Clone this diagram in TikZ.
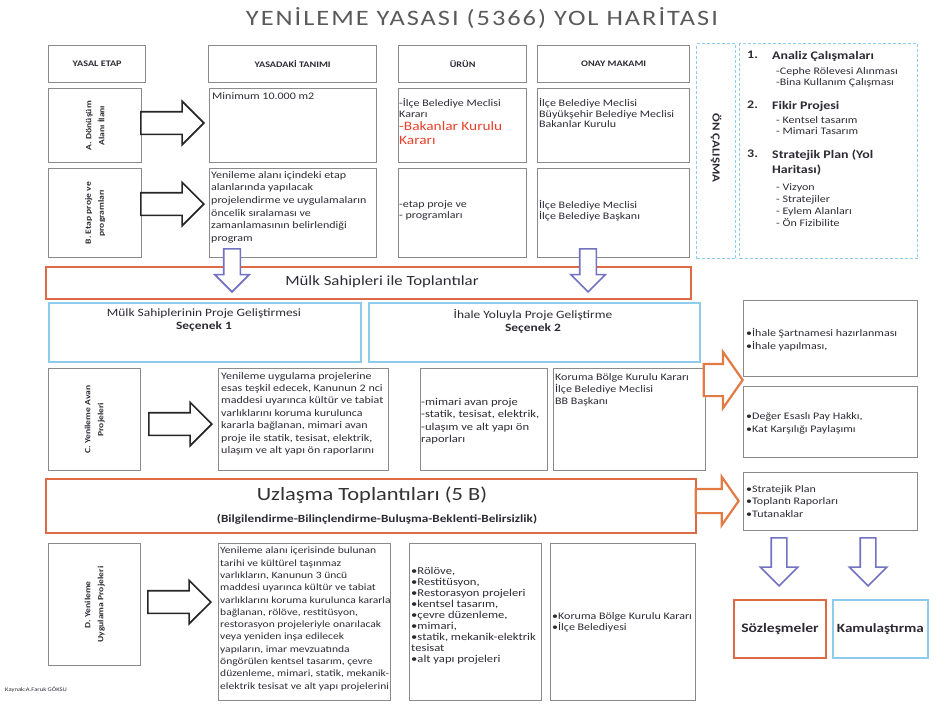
\documentclass[tikz,border=0pt]{standalone}
\usepackage{fontspec}
\setmainfont{Carlito}[FakeStretch=1.2]
\usetikzlibrary{positioning, shapes.arrows}

\definecolor{boxgray}{HTML}{8A8A8A}
\definecolor{lblue}{HTML}{8FCBEA}
\definecolor{redor}{HTML}{DE6A45}
\definecolor{arrblue}{HTML}{7272C2}
\definecolor{arror}{HTML}{E27A45}
\definecolor{txtc}{HTML}{2E2A33}
\definecolor{kirmizi}{HTML}{E8412C}
\definecolor{titlec}{HTML}{5A5A5A}

\begin{document}
\begin{tikzpicture}[
        x=1pt, y=-1pt,
        every node/.style={inner sep=0pt, text=txtc}, % plain text nodes
        gbox/.style={draw=boxgray, line width=1.3pt, anchor=north west}, % gray boxes
        bluebox/.style={draw=lblue, line width=1.8pt, anchor=north west},
        redbox/.style={draw=redor, line width=2pt, anchor=north west},
        dashbox/.style={draw=lblue, line width=1.3pt, dash pattern=on 3pt off 2pt, anchor=north west},
        hdr/.style={font=\fontsize{8.5}{10}\selectfont\bfseries},
        etap/.style={font=\fontsize{8}{13}\selectfont\bfseries, rotate=90, align=center},
        tanim/.style={font=\fontsize{10}{12.4}\selectfont, align=left, anchor=north west},
        small/.style={font=\fontsize{10}{11.5}\selectfont, align=left, anchor=north west},
        madde/.style={font=\fontsize{11.6}{15}\selectfont\bfseries, align=left, anchor=north west},
        blackarrow/.style={single arrow, draw=black!85, line width=1.6pt, fill=white,
            minimum height=63pt, inner ysep=10.5pt, single arrow head extend=10.5pt, anchor=tip},
        bluearrow/.style={single arrow, draw=arrblue, line width=1.6pt, fill=white,
            minimum height=43pt, inner ysep=7.5pt, single arrow head extend=9pt, anchor=tip, rotate=-90},
        orangearrow/.style={single arrow, draw=arror, line width=2.2pt, fill=white,
            single arrow tip angle=110, anchor=tip}
    ]

    \useasboundingbox (0,0) rectangle (944,704);

    % Title
    \node[font=\fontsize{22}{26}\selectfont\addfontfeatures{LetterSpace=9}, text=titlec] (baslik) at (482,18) {YENİLEME YASASI (5366) YOL HARİTASI};

    % Header row
    \node[gbox, minimum width=97pt, minimum height=37pt] (h1) at (48,45) {};
    \node[hdr] (h1t) at (h1.center) {YASAL ETAP};
    \node[gbox, minimum width=168pt, minimum height=37pt] (h2) at (208,45) {};
    \node[hdr] (h2t) at (h2.center) {YASADAKİ TANIMI};
    \node[gbox, minimum width=128pt, minimum height=37pt] (h3) at (398,45) {};
    \node[hdr] (h3t) at (h3.center) {ÜRÜN};
    \node[gbox, minimum width=152pt, minimum height=37pt] (h4) at (537,45) {};
    \node[hdr] (h4t) at (h4.center) {ONAY MAKAMI};

    % Row A
    \node[gbox, minimum width=93pt, minimum height=74pt] (eA) at (48,88) {};
    \node[etap] (eAt) at (eA.center) {A. Dönüşüm\\Alanı İlanı};
    \node[gbox, minimum width=167pt, minimum height=74pt] (tA) at (209,88) {};
    \node[tanim] (tAt) at ([shift={(3,4)}]tA.north west) {Minimum 10.000 m2};
    \node[blackarrow] (okA) at (205,123) {};
    \node[gbox, minimum width=128pt, minimum height=74pt] (uA) at (398,88) {};
    \node[small] (uAt) at ([shift={(1,10)}]uA.north west) {-İlçe Belediye Meclisi\\Kararı};
    \node[small, font=\fontsize{12.8}{14}\selectfont, text=kirmizi] (uAk) at ([shift={(1,33)}]uA.north west) {-Bakanlar Kurulu\\Kararı};
    \node[gbox, minimum width=152pt, minimum height=74pt] (oA) at (537,88) {};
    \node[small, font=\fontsize{10}{10.7}\selectfont] (oAt) at ([shift={(2,10)}]oA.north west) {İlçe Belediye Meclisi\\Büyükşehir Belediye Meclisi\\Bakanlar Kurulu};

    % Row B
    \node[gbox, minimum width=93pt, minimum height=89pt] (eB) at (48,168) {};
    \node[etap] (eBt) at (eB.center) {B. Etap proje ve\\programları};
    \node[gbox, minimum width=167pt, minimum height=89pt] (tB) at (209,168) {};
    \node[tanim, font=\fontsize{10}{12.7}\selectfont] (tBt) at ([shift={(2,3)}]tB.north west) {Yenileme alanı içindeki etap\\alanlarında yapılacak\\projelendirme ve uygulamaların\\öncelik sıralaması ve\\zamanlamasının belirlendiği\\program};
    \node[blackarrow] (okB) at (205,204) {};
    \node[gbox, minimum width=128pt, minimum height=89pt] (uB) at (398,168) {};
    \node[small] (uBt) at ([shift={(1,32)}]uB.north west) {-etap proje ve\\- programları};
    \node[gbox, minimum width=152pt, minimum height=89pt] (oB) at (537,168) {};
    \node[small] (oBt) at ([shift={(2,32)}]oB.north west) {İlçe Belediye Meclisi\\İlçe Belediye Başkanı};

    % Pre-study (dashed)
    \node[dashbox, minimum width=39pt, minimum height=215pt] (on) at (696,43) {};
    \node[font=\fontsize{10.8}{14}\selectfont\bfseries, rotate=-90] (ont) at (716,148) {ÖN ÇALIŞMA};
    \node[dashbox, minimum width=178pt, minimum height=215pt] (onl) at (739,43) {};
    \node[madde] (n1) at (747,51) {1.};
    \node[madde] (m1) at (772,51) {Analiz Çalışmaları};
    \node[small] (m1a) at (776,67) {-Cephe Rölevesi Alınması\\-Bina Kullanım Çalışması};
    \node[madde] (n2) at (747,101) {2.};
    \node[madde] (m2) at (772,101) {Fikir Projesi};
    \node[small] (m2a) at (776,116) {- Kentsel tasarım\\- Mimari Tasarım};
    \node[madde] (n3) at (747,150) {3.};
    \node[madde] (m3) at (772,150) {Stratejik Plan (Yol\\Haritası)};
    \node[small, font=\fontsize{10}{12}\selectfont] (m3a) at (776,183) {- Vizyon\\- Stratejiler\\- Eylem Alanları\\- Ön Fizibilite};

    % Owners meeting
    \node[redbox, minimum width=645pt, minimum height=32pt] (mulk) at (45,266) {};
    \node[font=\fontsize{14}{16}\selectfont] (mulkt) at (382,282) {Mülk Sahipleri ile Toplantılar};
    \node[bluearrow] (ok1) at (232,293) {};
    \node[bluearrow] (ok2) at (588,293) {};

    % Options
    \node[bluebox, minimum width=312pt, minimum height=59pt] (s1) at (48,302) {};
    \node[font=\fontsize{11.2}{13}\selectfont, align=center, anchor=north] (s1t) at (204,309) {Mülk Sahiplerinin Proje Geliştirmesi\\\textbf{Seçenek 1}};
    \node[bluebox, minimum width=331pt, minimum height=59pt] (s2) at (368,302) {};
    \node[font=\fontsize{11.2}{13}\selectfont, align=center, anchor=north] (s2t) at (533,309) {İhale Yoluyla Proje Geliştirme\\\textbf{Seçenek 2}};

    % Row C
    \node[gbox, minimum width=92pt, minimum height=102pt] (eC) at (48,368) {};
    \node[etap] (eCt) at (eC.center) {C. Yenileme Avan\\Projeleri};
    \node[gbox, minimum width=170pt, minimum height=102pt] (tC) at (218,368) {};
    \node[tanim] (tCt) at ([shift={(3,4)}]tC.north west) {Yenileme uygulama projelerine\\esas teşkil edecek, Kanunun 2 nci\\maddesi uyarınca kültür ve tabiat\\varlıklarını koruma kurulunca\\kararla bağlanan, mimari avan\\proje ile statik, tesisat, elektrik,\\ulaşım ve alt yapı ön raporlarını};
    \node[blackarrow] (okC) at (213,424) {};
    \node[gbox, minimum width=127pt, minimum height=102pt] (uC) at (420,368) {};
    \node[small, font=\fontsize{10.5}{12.3}\selectfont] (uCt) at ([shift={(1,30)}]uC.north west) {-mimari avan proje\\-statik, tesisat, elektrik,\\-ulaşım ve alt yapı ön\\raporları};
    \node[gbox, minimum width=152pt, minimum height=102pt] (oC) at (553,368) {};
    \node[small, font=\fontsize{10}{12.3}\selectfont] (oCt) at ([shift={(2,5)}]oC.north west) {Koruma Bölge Kurulu Kararı\\İlçe Belediye Meclisi\\BB Başkanı};
    \node[orangearrow, minimum height=39pt, inner ysep=15pt, single arrow head extend=12pt] (okT1) at (744,380) {};

    % Right column
    \node[gbox, minimum width=174pt, minimum height=76pt] (r1) at (743,300) {};
    \node[small, font=\fontsize{10}{13.5}\selectfont] (r1t) at ([shift={(3,28)}]r1.north west) {•İhale Şartnamesi hazırlanması\\•İhale yapılması,};
    \node[gbox, minimum width=174pt, minimum height=71pt] (r2) at (743,386) {};
    \node[small, font=\fontsize{10}{13.5}\selectfont] (r2t) at ([shift={(3,26)}]r2.north west) {•Değer Esaslı Pay Hakkı,\\•Kat Karşılığı Paylaşımı};
    \node[gbox, minimum width=174pt, minimum height=58pt] (r3) at (743,472) {};
    \node[small, font=\fontsize{10}{12.5}\selectfont] (r3t) at ([shift={(3,13)}]r3.north west) {•Stratejik Plan\\•Toplantı Raporları\\•Tutanaklar};

    % Consensus meetings
    \node[redbox, minimum width=650pt, minimum height=54pt] (uzl) at (45,478) {};
    \node[font=\fontsize{18.7}{20}\selectfont, text=black!80] (uzlt) at (372,495) {Uzlaşma Toplantıları (5 B)};
    \node[font=\fontsize{11}{12}\selectfont\bfseries] (uzls) at (377,519) {(Bilgilendirme-Bilinçlendirme-Buluşma-Beklenti-Belirsizlik)};
    \node[orangearrow, minimum height=43pt, inner ysep=11pt, single arrow head extend=12pt] (okT2) at (740,501) {};

    % Row D
    \node[gbox, minimum width=92pt, minimum height=122pt] (eD) at (48,543) {};
    \node[etap] (eDt) at (eD.center) {D. Yenileme\\Uygulama Projeleri};
    \node[gbox, minimum width=172pt, minimum height=157pt] (tD) at (218,543) {};
    \node[tanim, font=\fontsize{9.6}{12.3}\selectfont] (tDt) at ([shift={(2,4)}]tD.north west) {Yenileme alanı içerisinde bulunan\\tarihi ve kültürel taşınmaz\\varlıkların, Kanunun 3 üncü\\maddesi uyarınca kültür ve tabiat\\varlıklarını koruma kurulunca kararla\\bağlanan, rölöve, restitüsyon,\\restorasyon projeleriyle onarılacak\\veya yeniden inşa edilecek\\yapıların, imar mevzuatında\\öngörülen kentsel tasarım, çevre\\düzenleme, mimari, statik, mekanik-\\elektrik tesisat ve alt yapı projelerini};
    \node[blackarrow] (okD) at (212,602) {};
    \node[gbox, minimum width=132pt, minimum height=157pt] (uD) at (409,543) {};
    \node[small, font=\fontsize{10.5}{11}\selectfont] (uDt) at ([shift={(2,24)}]uD.north west) {•Rölöve,\\•Restitüsyon,\\•Restorasyon projeleri\\•kentsel tasarım,\\•çevre düzenleme,\\•mimari,\\•statik, mekanik-elektrik\\tesisat\\•alt yapı projeleri};
    \node[gbox, minimum width=145pt, minimum height=157pt] (oD) at (550,543) {};
    \node[small, font=\fontsize{10}{11}\selectfont] (oDt) at ([shift={(2,69)}]oD.north west) {•Koruma Bölge Kurulu Kararı\\•İlçe Belediyesi};

    % Results
    \node[bluearrow, minimum height=48pt, inner ysep=7pt, single arrow head extend=11pt] (ok3) at (779,587) {};
    \node[bluearrow, minimum height=48pt, inner ysep=7pt, single arrow head extend=11pt] (ok4) at (868,587) {};
    \node[redbox, minimum width=92pt, minimum height=58pt] (soz) at (733,599) {};
    \node[font=\fontsize{13}{14}\selectfont\bfseries] (sozt) at (soz.center) {Sözleşmeler};
    \node[bluebox, minimum width=95pt, minimum height=58pt] (kam) at (832,599) {};
    \node[font=\fontsize{12.6}{14}\selectfont\bfseries] (kamt) at (kam.center) {Kamulaştırma};

    \node[anchor=west, font=\fontsize{5.5}{6}\selectfont] (kaynak) at (5,690) {Kaynak:A.Faruk GÖKSU};

\end{tikzpicture}
\end{document}
